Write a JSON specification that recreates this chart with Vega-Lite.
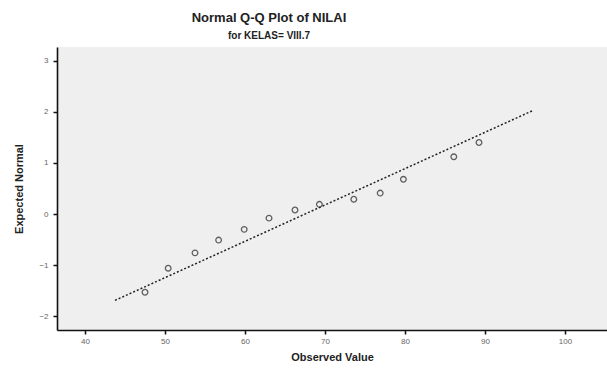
{
  "$schema": "https://vega.github.io/schema/vega-lite/v6.json",
  "width": 550,
  "height": 283,
  "autosize": "none",
  "padding": {"left": 57, "top": 47, "right": 0, "bottom": 39},
  "background": "white",
  "title": {
    "text": "Normal Q-Q Plot of NILAI",
    "subtitle": "for KELAS= VIII.7",
    "anchor": "middle",
    "dx": -63,
    "offset": 6,
    "font": "Liberation Sans",
    "fontSize": 13,
    "fontWeight": "bold",
    "color": "#222",
    "subtitleFont": "Liberation Sans",
    "subtitleFontSize": 10,
    "subtitleFontWeight": "bold",
    "subtitleColor": "#222",
    "subtitlePadding": 6
  },
  "config": {
    "view": {"fill": "#efefef", "stroke": null},
    "axis": {
      "grid": false,
      "domainColor": "#111",
      "domainWidth": 1.6,
      "tickColor": "#111",
      "tickWidth": 1.5,
      "tickSize": 4,
      "labelFont": "Liberation Sans",
      "labelFontSize": 8,
      "labelColor": "#666",
      "titleFont": "Liberation Sans",
      "titleFontSize": 11,
      "titleFontWeight": "bold",
      "titleColor": "#222"
    }
  },
  "datasets": {
    "points": [
      {"observed": 47.5, "expected": -1.53},
      {"observed": 50.4, "expected": -1.06},
      {"observed": 53.75, "expected": -0.76},
      {"observed": 56.7, "expected": -0.51},
      {"observed": 59.9, "expected": -0.3},
      {"observed": 63.0, "expected": -0.08},
      {"observed": 66.25, "expected": 0.08},
      {"observed": 69.3, "expected": 0.19},
      {"observed": 73.6, "expected": 0.29},
      {"observed": 76.9, "expected": 0.41},
      {"observed": 79.8, "expected": 0.68},
      {"observed": 86.1, "expected": 1.12},
      {"observed": 89.25, "expected": 1.4}
    ],
    "normal_line": [
      {"observed": 43.75, "expected": -1.69},
      {"observed": 96.04, "expected": 2.03}
    ]
  },
  "layer": [
    {
      "data": {"name": "normal_line"},
      "mark": {"type": "line", "color": "#222", "strokeWidth": 1.5, "strokeDash": [2, 2]},
      "encoding": {
        "x": {"field": "observed", "type": "quantitative",
              "scale": {"domain": [36.5, 105.25], "nice": false, "zero": false},
              "axis": {"title": "Observed Value", "values": [40, 50, 60, 70, 80, 90, 100], "format": "d", "titlePadding": 6, "labelPadding": 3}},
        "y": {"field": "expected", "type": "quantitative",
              "scale": {"domain": [-2.27, 3.27], "nice": false, "zero": false},
              "axis": {"title": "Expected Normal", "values": [-2, -1, 0, 1, 2, 3], "format": "d", "titlePadding": 14, "labelPadding": 5}}
      }
    },
    {
      "data": {"name": "points"},
      "mark": {"type": "point", "shape": "circle", "filled": false, "color": "#222", "size": 32, "strokeWidth": 1.3},
      "encoding": {
        "x": {"field": "observed", "type": "quantitative"},
        "y": {"field": "expected", "type": "quantitative"}
      }
    }
  ]
}
